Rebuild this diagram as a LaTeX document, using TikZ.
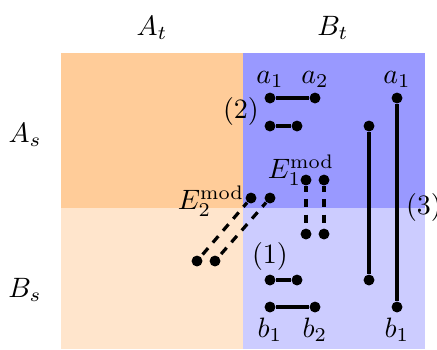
\documentclass[tikz,border=0pt]{standalone}
\usepackage{amsmath}
\usepackage{tikz}

\begin{document}
\begin{tikzpicture}[x=0.357pt,y=-0.357pt,
    pt/.style={circle,fill=black,inner sep=0pt,minimum size=3.9pt},
    every label/.style={inner sep=1.5pt},
    seg/.style={line width=1.15pt},
    dseg/.style={line width=1.15pt,dash pattern=on 3pt off 2.6pt,dash phase=1pt}
  ]
    \useasboundingbox (0,0) rectangle (437,349);
    \fill[orange!40] (61,53) rectangle (243,208);
    \fill[orange!20] (61,208) rectangle (243,349);
    \fill[blue!40] (243,53) rectangle (425,208);
    \fill[blue!20] (243,208) rectangle (425,349);
    \node (At) at (152,28) {$A_t$};
    \node (Bt) at (333,28) {$B_t$};
    \node (As) at (25,135) {$A_s$};
    \node (Bs) at (25,290) {$B_s$};
    \node[pt,label=above:$a_1$] (a1) at (270,98) {};
    \node[pt,label=above:$a_2$] (a2) at (315,98) {};
    \node[pt] (p1) at (270,126) {};
    \node[pt] (p2) at (297,126) {};
    \node[pt] (q1) at (270,280) {};
    \node[pt] (q2) at (297,280) {};
    \node[pt,label=below:$b_1$] (b1) at (270,307) {};
    \node[pt,label=below:$b_2$] (b2) at (315,307) {};
    \node[pt] (r1) at (369,126) {};
    \node[pt] (r2) at (369,280) {};
    \node[pt,label=above:$a_1$] (s1) at (397,98) {};
    \node[pt,label=below:$b_1$] (s2) at (397,307) {};
    \node[pt] (u1) at (306,180) {};
    \node[pt] (u2) at (306,234) {};
    \node[pt] (v1) at (324,180) {};
    \node[pt] (v2) at (324,234) {};
    \node[pt] (w1) at (251,198) {};
    \node[pt] (w2) at (197,261) {};
    \node[pt] (z1) at (270,198) {};
    \node[pt] (z2) at (215,261) {};
    \node (two) at (241,111) {$(2)$};
    \node (one) at (270,256) {$(1)$};
    \node (three) at (424,207) {$(3)$};
    \node (E1) at (301,170) {$E_1^{\text{mod}}$};
    \node (E2) at (211,201) {$E_2^{\text{mod}}$};
    \draw[seg] (a1) -- (a2);
    \draw[seg] (p1) -- (p2);
    \draw[seg] (q1) -- (q2);
    \draw[seg] (b1) -- (b2);
    \draw[seg] (r1) -- (r2);
    \draw[seg] (s1) -- (s2);
    \draw[dseg] (u1) -- (u2);
    \draw[dseg] (v1) -- (v2);
    \draw[dseg] (w1) -- (w2);
    \draw[dseg] (z1) -- (z2);
  \end{tikzpicture}
\end{document}
